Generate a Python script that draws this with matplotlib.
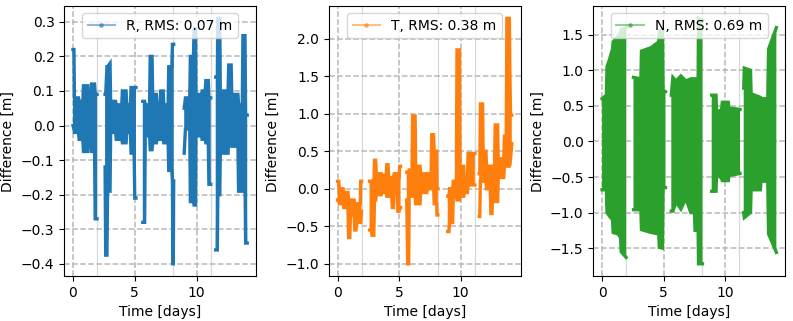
import numpy as np
import matplotlib.pyplot as plt
from matplotlib.lines import Line2D

nan = np.nan

# R component: envelope of the dense residual series (time in days, metres)
t_r = [0.00, 0.08, 0.12, 0.45, 0.50, 0.80, 0.85, 1.20, 1.25, 1.45, 1.50, 1.75, 1.80, 1.95, nan,
       2.60, 2.65, 2.75, 2.80, 3.00, 3.05, 3.45, 3.50, 3.95, 4.00, 4.30, 4.35, 4.65, 4.70, 4.95, 5.00, 5.10, nan,
       5.65, 5.80, 5.85, 6.20, 6.25, 6.40, 6.45, 6.75, 6.80, 7.05, 7.10, 7.30, 7.35, 7.70, 7.75, 8.00, 8.05, 8.08, 8.12, 8.15, nan,
       9.00, 9.10, 9.45, 9.50, 9.75, 9.80, 9.92, 9.95, 10.40, 10.45, 10.70, 10.75, 10.95, 11.00, 11.15, nan,
       11.55, 11.68, 11.72, 11.88, 11.92, 12.55, 12.60, 12.80, 12.85, 13.35, 13.40, 13.70, 13.75, 13.92, 13.97, 14.10]
r_hi = [0.22, 0.22, 0.08, 0.08, 0.07, 0.07, 0.115, 0.115, 0.06, 0.06, 0.12, 0.12, 0.09, 0.09, nan,
        0.09, 0.09, 0.17, 0.17, 0.18, 0.07, 0.07, 0.06, 0.06, 0.10, 0.10, 0.06, 0.06, 0.11, 0.11, 0.11, 0.11, nan,
        0.07, 0.07, 0.06, 0.06, 0.20, 0.20, 0.09, 0.09, 0.06, 0.06, 0.10, 0.10, 0.06, 0.06, 0.17, 0.17, 0.235, 0.235, 0.235, 0.235, nan,
        0.05, 0.08, 0.08, 0.20, 0.20, 0.28, 0.28, 0.09, 0.09, 0.10, 0.10, 0.13, 0.13, 0.08, 0.08, nan,
        0.14, 0.14, 0.31, 0.31, 0.10, 0.10, 0.175, 0.175, 0.09, 0.09, 0.06, 0.06, 0.26, 0.26, 0.03, 0.03]
r_lo = [0.00, -0.01, -0.02, -0.02, -0.04, -0.04, -0.075, -0.075, -0.04, -0.04, -0.075, -0.075, -0.27, -0.27, nan,
        -0.12, -0.375, -0.375, -0.19, -0.19, -0.02, -0.02, -0.04, -0.04, -0.05, -0.05, -0.02, -0.02, -0.08, -0.08, -0.21, -0.21, nan,
        -0.28, -0.28, -0.03, -0.03, -0.07, -0.07, -0.05, -0.05, -0.04, -0.04, -0.04, -0.04, -0.05, -0.05, -0.13, -0.13, -0.16, -0.40, -0.40, -0.16, nan,
        -0.08, -0.01, -0.01, -0.22, -0.22, -0.23, -0.23, -0.03, -0.03, -0.04, -0.04, -0.05, -0.05, -0.17, -0.17, nan,
        -0.36, -0.36, -0.20, -0.20, -0.08, -0.08, -0.03, -0.03, -0.06, -0.06, -0.19, -0.19, -0.15, -0.15, -0.34, -0.34]

# T component
t_t = [0.00, 0.10, 0.15, 0.45, 0.50, 0.85, 0.90, 1.00, 1.05, 1.35, 1.40, 1.50, 1.55, 1.85, 1.88, 1.95, nan,
       2.60, 2.75, 2.80, 2.95, 3.00, 3.10, 3.15, 3.55, 3.60, 3.95, 4.00, 4.10, 4.15, 4.40, 4.45, 4.55, 4.60, 4.85, 4.90, 5.00, 5.05, 5.12, nan,
       5.62, 5.70, 5.78, 5.82, 6.05, 6.10, 6.30, 6.35, 6.70, 6.75, 7.25, 7.30, 7.60, 7.65, 7.80, 7.85, 8.05, 8.08, 8.15, nan,
       8.95, 9.05, 9.10, 9.35, 9.40, 9.65, 9.70, 9.90, 9.95, 10.25, 10.30, 10.55, 10.60, 11.15, nan,
       11.50, 11.55, 11.60, 11.78, 11.82, 12.05, 12.10, 12.40, 12.45, 12.55, 12.60, 12.75, 12.80, 13.00, 13.05, 13.50,
       13.55, 13.70, 13.75, 13.95, 14.00, 14.05, 14.15]
t_hi = [0.10, 0.10, 0.00, 0.00, -0.05, -0.05, -0.15, -0.15, -0.15, -0.15, -0.20, -0.20, -0.20, -0.20, 0.10, 0.10, nan,
        0.10, 0.10, 0.05, 0.05, 0.38, 0.38, 0.20, 0.20, 0.18, 0.18, 0.32, 0.32, 0.15, 0.15, 0.15, 0.15, 0.20, 0.20, 0.15, 0.15, 0.30, 0.30, nan,
        0.22, 0.22, 0.22, 0.25, 0.25, 0.97, 0.97, 0.30, 0.30, 0.20, 0.20, 0.20, 0.20, 0.72, 0.72, 0.50, 0.50, 0.00, 0.00, nan,
        -0.10, -0.10, 0.00, 0.00, 0.10, 0.10, 1.85, 1.85, 0.30, 0.30, 0.10, 0.10, 0.47, 0.47, nan,
        0.20, 0.20, 1.13, 1.13, 0.50, 0.50, 0.30, 0.30, 0.25, 0.25, 0.30, 0.30, 0.85, 0.85, 0.40, 0.40,
        0.70, 0.70, 2.27, 2.27, 1.50, 0.98, 0.98]
t_lo = [-0.15, -0.15, -0.20, -0.20, -0.25, -0.25, -0.65, -0.65, -0.35, -0.35, -0.55, -0.55, -0.45, -0.45, -0.45, -0.30, nan,
        -0.55, -0.55, -0.62, -0.62, -0.15, -0.15, -0.08, -0.08, -0.05, -0.05, -0.10, -0.10, -0.10, -0.10, -0.25, -0.25, 0.00, 0.00, -0.30, -0.30, -0.25, -0.25, nan,
        -0.15, -1.00, -1.00, -0.10, -0.10, -0.10, -0.10, -0.20, -0.20, -0.05, -0.05, 0.00, 0.00, 0.05, 0.05, -0.20, -0.20, -0.35, -0.35, nan,
        -0.57, -0.57, -0.45, -0.45, -0.10, -0.10, -0.15, -0.15, -0.10, -0.10, -0.05, -0.05, 0.05, 0.05, nan,
        -0.37, -0.37, 0.10, 0.10, 0.10, 0.10, 0.00, 0.00, -0.33, -0.33, 0.05, 0.05, -0.17, -0.17, 0.15, 0.15,
        0.30, 0.30, 0.30, 0.30, 0.32, 0.40, 0.60]

# N component
t_n = [0.00, 0.35, 0.40, 0.60, 0.85, 0.90, 1.30, 1.50, 1.55, 1.95, nan,
       2.55, 3.15, 3.20, 4.00, 4.60, 4.65, 4.90, 4.95, 5.15, nan,
       5.62, 5.75, 6.00, 6.40, 6.80, 7.20, 7.50, 7.55, 7.80, 7.83, 8.15, nan,
       8.90, 9.25, 9.30, 9.70, 9.76, 10.25, 10.30, 11.20, nan,
       11.50, 11.55, 12.05, 12.10, 12.85, 12.90, 13.45, 13.52, 14.15]
n_hi = [0.60, 0.65, 1.05, 1.15, 1.30, 1.40, 1.48, 1.52, 1.57, 1.60, nan,
        0.90, 0.88, 1.27, 1.32, 1.40, 1.55, 1.57, 0.72, 0.70, nan,
        0.65, 0.90, 0.85, 0.92, 0.85, 0.88, 0.88, 0.85, 0.90, 1.73, 1.70, nan,
        0.65, 0.65, 0.40, 0.45, 0.55, 0.55, 0.47, 0.45, nan,
        0.75, 1.03, 1.00, 0.67, 0.62, 0.60, 0.60, 1.30, 1.60]
n_lo = [-0.68, -0.68, -1.00, -1.05, -1.10, -1.28, -1.30, -1.35, -1.55, -1.63, nan,
        -0.96, -0.96, -1.24, -1.28, -1.30, -1.49, -1.50, -0.65, -0.65, nan,
        -0.98, -0.98, -0.85, -0.95, -0.80, -1.00, -1.00, -1.25, -1.25, -1.72, -1.72, nan,
        -0.70, -0.70, -0.45, -0.52, -0.55, -0.55, -0.48, -0.45, nan,
        -1.00, -1.07, -1.00, -0.68, -0.68, -0.56, -0.56, -1.30, -1.56]

labels = ['R', 'T', 'N']
rms = [0.07, 0.38, 0.69]
colors = ['tab:blue', 'tab:orange', 'tab:green']
arc_ends = [1.95, 8.12, 11.15]

fig, axes = plt.subplots(1, 3, figsize=(7.93, 3.21), dpi=100)
fig.subplots_adjust(left=0.081, right=0.99, bottom=0.14, top=0.981, wspace=0.38)

series = [(t_r, r_hi, r_lo), (t_t, t_hi, t_lo), (t_n, n_hi, n_lo)]
for ax, (t, hi, lo), lab, val, c in zip(axes, series, labels, rms, colors):
    t = np.array(t)
    hi = np.array(hi)
    lo = np.array(lo)
    ax.set_axisbelow(True)
    for xv in arc_ends:
        ax.axvline(xv, color='0.85', lw=0.9, zorder=0.5)
    ax.grid(True, linestyle='--', color='0.72', lw=1.1, zorder=0.6)
    ax.fill_between(t, lo, hi, color=c, lw=0, zorder=2)
    ax.plot(t, hi, '-', color=c, lw=2.4, zorder=2.1, solid_joinstyle='miter')
    ax.plot(t, lo, '-', color=c, lw=2.4, zorder=2.1, solid_joinstyle='miter')
    ax.set_xticks([0, 5, 10])
    ax.set_xlabel('Time [days]', fontsize=10)
    ax.set_ylabel('Difference [m]', fontsize=10)
    ax.tick_params(labelsize=10)
    handle = Line2D([], [], color=c, marker='.', ms=5, lw=1.5, alpha=0.5)
    ax.legend([handle], [f'{lab}, RMS: {val:.2f} m'], loc='upper center', fontsize=10)

fig.savefig('out.png', dpi=100)
